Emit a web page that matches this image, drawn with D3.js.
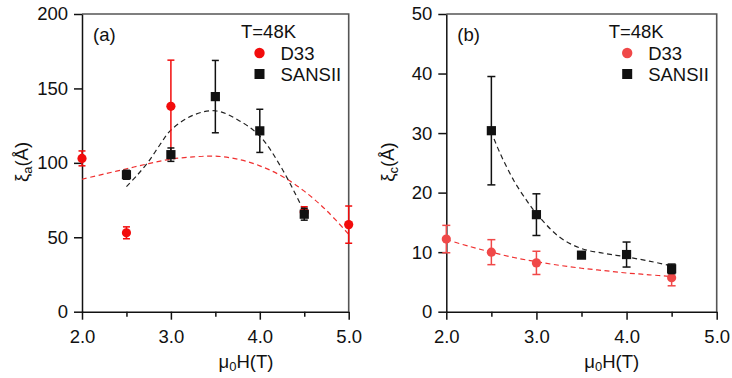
<!DOCTYPE html>
<html><head><meta charset="utf-8">
<script src="https://cdn.jsdelivr.net/npm/d3@7"></script>
<style>body{margin:0;background:#fff}svg{display:block}text{font-family:"Liberation Sans",Arial,sans-serif}</style>
</head><body><svg id="c" width="732" height="378"></svg>
<script>
// ---------- data ----------
const xTicks = [2.0, 3.0, 4.0, 5.0];
const xMinorTicks = [2.5, 3.5, 4.5];
const yTicksA = [0, 50, 100, 150, 200];
const yTicksB = [0, 10, 20, 30, 40, 50];

// Panel (a): xi_a
const fieldA_D33 = [2.0, 2.5, 3.0, 4.5, 5.0];
const xiA_D33 = [103, 53, 138, 67, 58.5];
const errA_D33 = [5, 4, 31, 3.5, 12.5];
const fieldA_SANS = [2.5, 3.0, 3.5, 4.0, 4.5];
const xiA_SANS = [92, 105.5, 144.5, 121.5, 65.5];
const errA_SANS = [3, 4.5, 24.3, 14.5, 4];
const fitA_D33_x = [2.0, 2.25, 2.5, 2.75, 3.0, 3.25, 3.5, 3.75, 4.0, 4.25, 4.5, 4.75, 5.0];
const fitA_D33_y = [89, 92.5, 96, 99.5, 102.5, 104, 104.5, 102.5, 98, 91, 81, 68, 52];
const fitA_SANS_x = [2.5, 2.625, 2.75, 2.875, 3.0, 3.25, 3.5, 3.75, 4.0, 4.25, 4.5];
const fitA_SANS_y = [84, 92, 101, 112, 122, 132, 135, 129, 118, 96, 67];

// Panel (b): xi_c
const fieldB_D33 = [2.0, 2.5, 3.0, 4.5];
const xiB_D33 = [12.2, 10.0, 8.2, 5.7];
const errB_D33 = [2.3, 2.1, 1.95, 1.35];
const fieldB_SANS = [2.5, 3.0, 3.5, 4.0, 4.5];
const xiB_SANS = [30.4, 16.3, 9.5, 9.6, 7.2];
const errB_SANS = [9.1, 3.5, 0, 2.1, 0.8];
const fitB_D33_x = [2.0, 2.25, 2.5, 2.75, 3.0, 3.25, 3.5, 3.75, 4.0, 4.25, 4.5];
const fitB_D33_y = [12.1, 11.0, 10.0, 9.1, 8.4, 7.8, 7.3, 6.9, 6.5, 6.2, 5.9];
const fitB_SANS_x = [2.53, 2.6, 2.75, 2.9, 3.0, 3.25, 3.5, 3.75, 4.0, 4.25, 4.5];
const fitB_SANS_y = [29, 26.5, 22, 18.5, 16.5, 12.6, 10.6, 9.8, 9.2, 8.5, 7.7];

const legendTitle = "T=48K";
const seriesNames = ["D33", "SANSII"];

// ---------- drawing ----------
const svg = d3.select("#c");
const FS = 18.5;

function panel(opt) {
  const x = d3.scaleLinear().domain([2, 5]).range([opt.x0, opt.x1]);
  const y = d3.scaleLinear().domain([0, opt.ymax]).range([311.7, 14]);
  const g = svg.append("g");

  // frame top/right
  g.append("path").attr("d", `M${opt.x0},${y(opt.ymax)}H${opt.x1}V${y(0)}`)
    .attr("fill", "none").attr("stroke", "#555").attr("stroke-width", 1.6);

  // axes
  const ax = g.append("g").attr("transform", `translate(0,${y(0)})`)
    .call(d3.axisBottom(x).tickValues(xTicks).tickFormat(d3.format(".1f")).tickSize(8).tickPadding(10).tickSizeOuter(0));
  g.append("g").attr("transform", `translate(0,${y(0)})`)
    .call(d3.axisBottom(x).tickValues(xMinorTicks).tickFormat("").tickSize(5).tickSizeOuter(0))
    .call(s => s.select(".domain").remove());
  const ay = g.append("g").attr("transform", `translate(${opt.x0},0)`)
    .call(d3.axisLeft(y).tickValues(opt.yTicks).tickSize(8).tickPadding(6).tickSizeOuter(0));
  [ax, ay].forEach(a => {
    a.selectAll("text").attr("font-size", FS).attr("fill", "#111").attr("font-family", '"Liberation Sans",Arial,sans-serif');
    a.selectAll("line,path").attr("stroke", "#111").attr("stroke-width", 1.5);
  });
  g.selectAll(".tick line").attr("stroke", "#111").attr("stroke-width", 1.5);

  // fits
  const line = d3.line().x(d => x(d[0])).y(d => y(d[1])).curve(d3.curveCatmullRom.alpha(0.5));
  opt.fits.forEach(f => {
    g.append("path").datum(d3.zip(f.xs, f.ys)).attr("d", line)
      .attr("fill", "none").attr("stroke", f.color).attr("stroke-width", 1.2)
      .attr("stroke-dasharray", "5,3.5");
  });

  // series
  opt.series.forEach(s => {
    const pts = d3.zip(s.xs, s.ys, s.es);
    const eg = g.append("g").attr("stroke", s.color).attr("stroke-width", 1.5);
    pts.forEach(([xv, yv, ev]) => {
      if (ev <= 0) return;
      const cx = x(xv), yt = y(yv + ev), yb = y(yv - ev);
      eg.append("line").attr("x1", cx).attr("x2", cx).attr("y1", yt).attr("y2", yb);
      eg.append("line").attr("x1", cx - s.cap).attr("x2", cx + s.cap).attr("y1", yt).attr("y2", yt);
      eg.append("line").attr("x1", cx - s.cap).attr("x2", cx + s.cap).attr("y1", yb).attr("y2", yb);
    });
    if (s.shape === "circle") {
      g.append("g").selectAll("circle").data(pts).join("circle")
        .attr("cx", d => x(d[0])).attr("cy", d => y(d[1])).attr("r", 4.6).attr("fill", s.color);
    } else {
      g.append("g").selectAll("rect").data(pts).join("rect")
        .attr("x", d => x(d[0]) - 4.6).attr("y", d => y(d[1]) - 4.6)
        .attr("width", 9.2).attr("height", 9.2).attr("fill", s.color);
    }
  });

  // labels
  g.append("text").attr("x", opt.x0 + 11).attr("y", 41).attr("font-size", FS).attr("fill", "#111").text(opt.tag);
  const lx = opt.legX;
  g.append("text").attr("x", lx).attr("y", 38).attr("font-size", FS).attr("fill", "#111").text(legendTitle);
  g.append("circle").attr("cx", lx + 18.5).attr("cy", 53).attr("r", 5.2).attr("fill", opt.series[0].color);
  g.append("text").attr("x", lx + 39.5).attr("y", 59.5).attr("font-size", FS).attr("fill", "#111").text(seriesNames[0]);
  g.append("rect").attr("x", lx + 13.5).attr("y", 69).attr("width", 10).attr("height", 10).attr("fill", "#111");
  g.append("text").attr("x", lx + 39.5).attr("y", 80.5).attr("font-size", FS).attr("fill", "#111").text(seriesNames[1]);

  // y label
  const yl = g.append("text").attr("transform", `translate(${opt.ylabX},162) rotate(-90)`)
    .attr("text-anchor", "middle").attr("font-size", FS).attr("fill", "#111");
  yl.append("tspan").text("ξ");
  yl.append("tspan").attr("font-size", 13).attr("dy", 4).text(opt.sub);
  yl.append("tspan").attr("dy", -4).text("(Å)");

  // x label
  const xl = g.append("text").attr("x", opt.xlabX).attr("y", 368).attr("text-anchor", "middle")
    .attr("font-size", FS).attr("fill", "#111");
  xl.append("tspan").text("μ");
  xl.append("tspan").attr("font-size", 13).attr("dy", 3).text("0");
  xl.append("tspan").attr("dy", -3).text("H(T)");
}

const redA = "#f20c0c", redB = "#f04848", blk = "#111";
panel({
  x0: 82, x1: 348.7, ymax: 200, yTicks: yTicksA, tag: "(a)", legX: 241, ylabX: 28, xlabX: 246, sub: "a",
  fits: [{xs: fitA_D33_x, ys: fitA_D33_y, color: "#f03030"}, {xs: fitA_SANS_x, ys: fitA_SANS_y, color: "#222"}],
  series: [
    {xs: fieldA_D33, ys: xiA_D33, es: errA_D33, color: redA, shape: "circle", cap: 3.5},
    {xs: fieldA_SANS, ys: xiA_SANS, es: errA_SANS, color: blk, shape: "square", cap: 3.5}
  ]
});
panel({
  x0: 446.3, x1: 716.7, ymax: 50, yTicks: yTicksB, tag: "(b)", legX: 608.7, ylabX: 394, xlabX: 611.7, sub: "c",
  fits: [{xs: fitB_D33_x, ys: fitB_D33_y, color: "#f03030"}, {xs: fitB_SANS_x, ys: fitB_SANS_y, color: "#222"}],
  series: [
    {xs: fieldB_D33, ys: xiB_D33, es: errB_D33, color: redB, shape: "circle", cap: 4},
    {xs: fieldB_SANS, ys: xiB_SANS, es: errB_SANS, color: blk, shape: "square", cap: 4}
  ]
});
</script></body></html>
